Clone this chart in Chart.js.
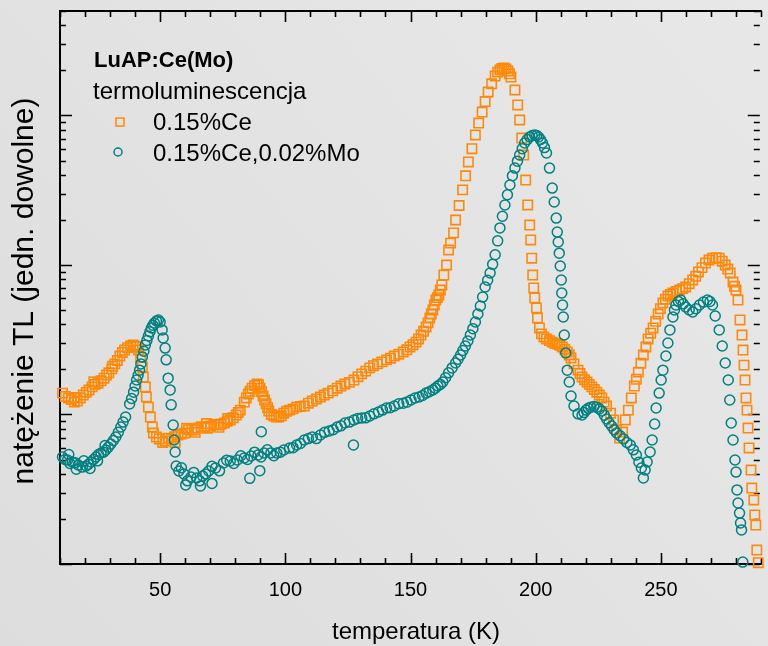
<!DOCTYPE html>
<html>
<head>
<meta charset="utf-8">
<script src="https://cdn.jsdelivr.net/npm/chart.js@4.4.1/dist/chart.umd.min.js"></script>
<style>
  html, body { margin: 0; padding: 0; background: #e2e2e2; }
  canvas { display: block; }
</style>
</head>
<body>
<canvas id="tlChart" width="768" height="646"></canvas>
<script>
// 0.15%Ce (squares) - temperature (K) and TL intensity (arb. units)
const ceTemp = [11.0, 13.4, 15.7, 18.1, 20.5, 22.8, 25.2, 27.6, 29.5, 31.9, 33.9, 35.8, 38.2, 40.2, 41.4, 42.2,
  42.9, 43.3, 44.1, 44.5, 45.3, 46.1, 46.9, 47.3, 48.5, 49.6, 52.0, 54.4, 57.1, 59.9, 62.7, 65.0, 67.8, 70.2,
  72.9, 75.7, 78.0, 80.4, 82.0, 83.6, 85.2, 86.7, 88.7, 89.9, 91.1, 92.3, 93.4, 95.4, 97.4, 99.4, 101.7, 104.5,
  107.6, 110.8, 114.0, 117.1, 120.7, 123.8, 127.4, 130.5, 133.7, 136.8, 140.4, 143.5, 147.1, 149.8, 152.2, 154.2,
  156.2, 157.7, 158.9, 160.1, 161.3, 162.5, 163.3, 164.4, 165.2, 166.0, 167.2, 168.0, 170.8, 173.1, 175.9, 178.6,
  181.0, 183.8, 185.7, 187.3, 188.9, 190.1, 191.7, 192.8, 193.6, 194.4, 195.2, 196.0, 196.8, 197.6, 198.0, 198.4,
  198.8, 199.2, 199.6, 200.3, 200.7, 201.5, 202.3, 204.3, 206.6, 208.6, 210.6, 212.6, 214.1, 215.3, 216.9, 218.5,
  220.5, 222.4, 224.4, 226.4, 228.3, 229.9, 231.1, 232.3, 233.5, 234.7, 235.8, 237.0, 238.2, 239.4, 241.0, 243.0,
  244.9, 246.9, 248.9, 250.8, 252.8, 254.8, 257.5, 259.9, 262.7, 265.0, 267.8, 270.6, 273.3, 275.7, 277.7, 278.8,
  280.0, 280.8, 281.6, 282.4, 282.8, 283.2, 283.6, 284.0, 284.4, 284.8, 285.2, 286.0, 286.3, 287.1, 287.5, 287.9,
  288.3, 288.9];
const ceTL = [13.9, 12.9, 12.1, 12.9, 14.1, 15.3, 16.2, 17.5, 19.0, 21.8, 24.6, 27.0, 28.7, 28.3, 27.0, 24.2,
  20.8, 17.8, 15.3, 13.1, 11.2, 9.62, 8.25, 7.52, 7.07, 6.86, 6.65, 6.86, 7.29, 7.52, 7.88, 8.12, 8.25, 8.38,
  8.51, 8.77, 9.19, 9.92, 10.7, 12.1, 13.7, 15.0, 16.0, 15.0, 13.3, 11.8, 10.55, 9.77, 9.62, 10.2, 10.7, 11.2,
  11.4, 12.3, 13.1, 13.9, 15.0, 16.0, 17.0, 18.7, 20.5, 21.8, 23.2, 24.6, 26.2, 28.3, 30.5, 34.0,
  38.5, 44.2, 50.0, 58.3, 63.0, 73.5, 85.7, 100, 126, 140, 164, 200, 318, 489, 741, 1055,
  1436, 1837, 2015, 2078, 1985, 1809, 1481, 1176, 933, 707, 544, 370, 252, 185, 147, 111,
  85.7, 70.2, 60.2, 51.6, 44.2, 37.9, 34.6, 32.0, 30.5, 29.6, 28.3, 26.2, 23.9, 21.8, 19.8, 17.8,
  16.5, 15.3, 14.1, 12.9, 11.4, 10.2, 9.19, 7.88, 6.96, 7.63, 9.19, 10.7, 12.9, 15.5, 19.2, 25.0,
  32.0, 37.9, 47.0, 55.7, 62.0, 65.0, 68.0, 71.3, 79.4, 89.8, 103, 111, 111, 100, 88.4, 76.9,
  68.0, 58.3, 42.9, 34.0, 27.0, 21.4, 17.0, 12.9, 10.7, 8.12, 5.97, 4.25, 3.22, 2.68, 2.13, 1.82,
  1.24, 1.02];
// second pass of readings in between, where the squares crowd into a band
const ceTemp2 = [12.2, 14.5, 16.0, 16.9, 19.3, 21.6, 23.5, 24.0, 26.4, 28.6, 30.7, 31.0, 32.9, 34.9, 37.0, 39.2,
  40.8, 51.0, 53.2, 55.7, 56.0, 58.5, 60.5, 61.3, 63.8, 64.0, 66.4, 68.5, 69.0, 71.5, 73.5, 74.3, 76.8, 77.0,
  79.2, 81.2, 84.4, 85.9, 87.7, 89.3, 90.5, 91.7, 92.9, 94.4, 96.4, 98.4, 100.5, 103.1, 106.0, 109.2, 112.4,
  115.5, 118.9, 122.2, 125.6, 129.0, 132.1, 135.2, 138.6, 142.0, 145.3, 148.5, 151.0, 153.2, 155.2, 157.0,
  158.3, 159.5, 160.7, 161.9, 169.4, 172.0, 174.5, 177.2, 179.8, 182.4, 184.8, 186.5, 188.1, 189.5, 203.3,
  205.5, 207.6, 209.6, 211.6, 213.4, 217.7, 219.5, 221.4, 223.4, 225.4, 227.3, 240.2, 242.0, 244.0, 245.9,
  247.9, 249.8, 251.8, 253.8, 256.1, 258.7, 261.3, 263.9, 266.4, 269.2, 272.0, 274.5, 276.7, 279.4];
const ceTL2 = [13.2, 12.6, 13.0, 12.3, 13.5, 14.6, 16.6, 15.9, 16.8, 18.4, 20.2, 21.0, 23.0, 26.0, 28.0, 29.2,
  28.6, 6.5, 6.95, 7.1, 6.5, 7.4, 8.1, 7.9, 7.9, 7.6, 8.3, 8.7, 8.1, 8.6, 8.2, 8.6, 9.0, 9.4,
  9.5, 10.3, 12.9, 14.3, 15.6, 15.8, 14.2, 12.5, 11.1, 10.0, 9.6, 9.8, 10.5, 10.9, 11.3, 11.9, 12.7,
  13.5, 14.4, 15.5, 16.4, 17.9, 19.5, 21.2, 22.5, 23.8, 25.3, 27.1, 29.3, 32.0, 36.0, 41.0,
  47.0, 54.0, 60.5, 68.0, 250, 395, 600, 890, 1240, 1630, 1950, 2060, 2050, 1900, 33.0,
  31.2, 30.0, 29.0, 27.3, 25.0, 18.8, 17.1, 15.9, 14.7, 13.5, 12.1, 17.2, 22.0, 28.3, 35.0,
  42.0, 51.0, 59.0, 63.5, 66.5, 69.5, 75.0, 84.0, 96.0, 108, 112, 106, 94, 72];

// 0.15%Ce,0.02%Mo (circles); the last few are stray readings off the main band
const moTemp = [11.0, 13.0, 14.9, 17.3, 20.5, 22.4, 24.4, 26.4, 28.3, 30.3, 32.3, 34.3, 36.2, 37.8, 39.4, 40.6,
  41.8, 42.9, 44.1, 45.3, 46.5, 47.7, 49.3, 50.0, 50.8, 51.2, 52.0, 52.4, 53.2, 54.0, 54.4, 55.2, 55.6, 56.0,
  56.4, 57.5, 59.5, 62.3, 64.6, 67.0, 69.4, 72.1, 75.3, 78.0, 80.8, 83.6, 86.3, 89.1, 91.5, 94.2, 96.6, 99.4,
  101.7, 104.5, 107.6, 110.8, 114.0, 117.5, 120.7, 123.8, 127.4, 130.5, 133.7, 137.2, 140.4, 143.5, 147.1, 150.2,
  153.4, 156.2, 158.9, 160.9, 162.9, 165.2, 168.0, 170.0, 171.9, 173.9, 175.9, 177.9, 179.8, 181.8, 183.8, 185.7,
  187.7, 189.7, 191.7, 193.6, 195.6, 197.6, 199.6, 201.1, 202.7, 204.3, 205.5, 206.6, 207.4, 208.2, 208.6, 209.0,
  209.4, 209.8, 210.2, 210.4, 210.7, 211.0, 211.4, 212.0, 212.6, 213.4, 214.1, 215.3, 216.9, 218.5, 220.1, 222.0,
  224.4, 226.4, 228.3, 230.3, 232.3, 235.1, 237.8, 240.2, 242.2, 243.0, 243.7, 244.5, 245.7, 246.5, 247.5, 248.1,
  249.3, 250.1, 250.8, 252.0, 252.8, 253.6, 254.8, 256.0, 257.9, 259.9, 262.7, 265.4, 268.6, 270.6, 271.7, 273.3,
  274.5, 275.7, 276.9, 277.5, 278.1, 278.8, 279.6, 280.0, 280.4, 280.8, 281.4, 281.8, 282.2, 282.7,
  60.2, 66.1, 70.7, 85.8, 89.8, 90.4, 127.2];
const moTL = [5.20, 4.96, 4.81, 4.59, 4.52, 4.81, 5.20, 5.53, 5.79, 6.35, 7.07, 8.25, 9.62, 11.75, 14.1, 17.0,
  19.8, 24.2, 29.2, 33.5, 37.9, 40.9, 42.9, 41.6, 36.8, 32.5, 27.8, 23.2, 17.5, 14.6, 11.6, 8.51, 6.75, 5.61,
  4.52, 4.19, 4.00, 3.82, 3.76, 3.88, 4.19, 4.39, 4.74, 4.89, 4.96, 5.12, 5.28, 5.36, 5.53, 5.53, 5.53, 5.79,
  5.97, 6.25, 6.75, 7.07, 7.29, 7.75, 8.25, 8.77, 9.19, 9.48, 9.77, 10.4, 11.05, 11.4, 11.9, 12.5,
  13.1, 13.9, 14.6, 15.5, 16.5, 19.0, 22.1, 25.0, 28.7, 34.0, 41.6, 53.2, 71.3, 88.4, 117, 177,
  252, 343, 445, 544, 655, 718, 741, 718, 655, 561, 445, 327, 264, 206, 166, 142.5,
  120, 98.5, 79.4, 65.0, 54.0, 44.9, 34.0, 25.8, 19.8, 16.5, 13.3, 11.4, 10.1, 9.92, 10.7, 11.2,
  11.2, 10.55, 9.33, 8.38, 7.52, 6.86, 6.25, 5.36, 4.39, 3.76, 4.25, 4.81, 5.61, 6.75, 8.64, 11.05,
  13.9, 17.0, 19.8, 24.6, 30.1, 36.8, 44.9, 54.0, 58.3, 52.4, 48.5, 54.0, 58.3, 54.0, 45.6, 36.8,
  28.7, 22.1, 17.0, 12.5, 8.77, 6.75, 4.96, 4.12, 3.13, 2.56, 2.19, 1.88, 1.69, 1.03,
  3.38, 3.33, 3.46, 3.74, 4.21, 7.67, 6.25];
// second pass of readings in between
const moTemp2 = [12.0, 13.5, 14.0, 16.1, 16.5, 18.9, 19.5, 21.4, 22.0, 23.4, 25.0, 25.4, 27.4, 28.0, 29.3, 31.3,
  33.3, 35.2, 38.6, 40.0, 41.2, 42.3, 43.5, 44.7, 45.9, 47.1, 48.5, 58.5, 60.9, 63.4, 65.8, 68.2, 70.7, 73.7,
  76.6, 79.4, 82.2, 84.9, 87.7, 90.3, 92.8, 95.4, 98.0, 103.1, 106.0, 109.2, 112.4, 115.7, 119.1, 122.2, 125.6,
  128.9, 132.1, 135.4, 138.8, 141.9, 145.3, 148.6, 151.8, 154.8, 157.5, 159.9, 161.9, 164.0, 166.6, 169.0,
  170.9, 172.9, 174.9, 176.9, 178.8, 180.8, 182.8, 184.8, 186.7, 188.7, 190.7, 192.7, 194.6, 196.6, 198.6,
  200.4, 201.9, 203.5, 219.3, 221.0, 223.2, 225.4, 227.4, 229.3, 231.3, 233.7, 236.4, 239.0, 241.2, 255.4,
  257.0, 258.9, 261.3, 264.0, 267.0, 269.6];
const moTL2 = [5.0, 5.4, 4.7, 4.75, 4.3, 4.45, 4.9, 4.65, 4.35, 5.0, 4.9, 5.4, 5.6, 6.2, 6.05, 6.7,
  7.6, 8.9, 12.8, 15.5, 18.3, 21.8, 26.5, 31.3, 35.8, 39.5, 42.2, 4.4, 3.6, 4.1, 3.6, 4.0, 4.5, 4.2,
  4.95, 4.7, 5.3, 5.0, 5.6, 5.2, 5.8, 5.3, 5.6, 6.0, 6.4, 6.9, 6.9, 7.6, 7.9, 8.4, 8.9,
  9.4, 9.5, 10.1, 10.7, 11.1, 11.8, 12.1, 12.9, 13.4, 14.2, 15.0, 15.9, 17.6, 20.5, 23.4,
  26.8, 31.0, 37.5, 47.0, 61.0, 79.0, 101, 145, 212, 295, 395, 495, 600, 690, 735,
  735, 690, 610, 10.3, 11.0, 11.3, 10.9, 9.9, 8.8, 7.9, 7.2, 6.5, 5.8, 4.8, 50.0,
  57.0, 55.0, 50.0, 51.0, 56.5, 57.0];

// axis ticks
const xLabels = [50, 100, 150, 200, 250];
const yDecades = [1, 10, 100, 1000];

const orange = "#ff8a0a";
const teal = "#008080";
const font = '"Liberation Sans", Arial, sans-serif';

const toPoints = (ts, vs) => ts.map((t, i) => ({ x: t, y: vs[i] }));

const framePlugin = {
  id: "framePlugin",
  beforeDraw(chart) {
    const ctx = chart.ctx;
    const g = ctx.createLinearGradient(0, chart.height, chart.width, 0);
    g.addColorStop(0, "#dddddd");
    g.addColorStop(1, "#e8e8e8");
    ctx.save();
    ctx.fillStyle = g;
    ctx.fillRect(0, 0, chart.width, chart.height);
    ctx.restore();
  },
  beforeDatasetsDraw(chart) {
    const ctx = chart.ctx;
    const a = chart.chartArea;
    const xs = chart.scales.x;
    const ys = chart.scales.y;
    ctx.save();
    ctx.strokeStyle = "#000";

    // inward ticks on all four sides
    ctx.lineWidth = 1.6;
    ctx.beginPath();
    for (let t = 10; t <= 290; t += 10) {
      const px = Math.round(xs.getPixelForValue(t)) + 0.5;
      const len = xLabels.includes(t) ? 11 : 6;
      ctx.moveTo(px, a.bottom); ctx.lineTo(px, a.bottom - len);
      ctx.moveTo(px, a.top); ctx.lineTo(px, a.top + len);
    }
    yDecades.forEach((d) => {
      for (let m = 1; m <= 9; m++) {
        const v = d * m;
        if (v > 5000) break;
        const py = Math.round(ys.getPixelForValue(v)) + 0.5;
        const len = m === 1 ? 12 : 6;
        ctx.moveTo(a.left, py); ctx.lineTo(a.left + len, py);
        ctx.moveTo(a.right, py); ctx.lineTo(a.right - len, py);
      }
    });
    ctx.stroke();

    // frame
    ctx.lineWidth = 2;
    ctx.beginPath();
    ctx.moveTo(a.right + 2, a.top);
    ctx.lineTo(a.left, a.top);
    ctx.lineTo(a.left, a.bottom);
    ctx.lineTo(a.right + 2, a.bottom);
    ctx.stroke();
    ctx.restore();
  },
  afterDraw(chart) {
    const ctx = chart.ctx;
    const xs = chart.scales.x;
    ctx.save();
    ctx.fillStyle = "#000";

    // x tick labels
    ctx.font = "20px " + font;
    ctx.textAlign = "center";
    ctx.textBaseline = "alphabetic";
    xLabels.forEach((t) => ctx.fillText(String(t), xs.getPixelForValue(t), 596));

    // axis titles
    ctx.font = "24px " + font;
    ctx.fillText("temperatura (K)", 416, 639);
    ctx.save();
    ctx.translate(33, 291);
    ctx.rotate(-Math.PI / 2);
    ctx.font = "30px " + font;
    ctx.fillText("natężenie TL (jedn. dowolne)", 0, 0);
    ctx.restore();

    // legend block
    ctx.textAlign = "left";
    ctx.font = "bold 22px " + font;
    ctx.fillText("LuAP:Ce(Mo)", 94, 67);
    ctx.font = "24px " + font;
    ctx.fillText("termoluminescencja", 93, 99);
    ctx.fillText("0.15%Ce", 153, 130);
    ctx.fillText("0.15%Ce,0.02%Mo", 153, 161);

    ctx.lineWidth = 1.5;
    ctx.strokeStyle = orange;
    ctx.strokeRect(116, 118, 8, 8);
    ctx.strokeStyle = teal;
    ctx.beginPath();
    ctx.arc(118, 152, 4, 0, Math.PI * 2);
    ctx.stroke();
    ctx.restore();
  },
};

new Chart(document.getElementById("tlChart"), {
  type: "scatter",
  data: {
    datasets: [
      {
        label: "0.15%Ce",
        data: toPoints(ceTemp, ceTL).concat(toPoints(ceTemp2, ceTL2)),
        pointStyle: "rect",
        pointRadius: 6.6,
        borderColor: orange,
        backgroundColor: "rgba(0,0,0,0)",
        borderWidth: 1.6,
        order: 1,
        clip: false,
      },
      {
        label: "0.15%Ce,0.02%Mo",
        data: toPoints(moTemp, moTL).concat(toPoints(moTemp2, moTL2)),
        pointStyle: "circle",
        pointRadius: 5,
        borderColor: teal,
        backgroundColor: "rgba(0,0,0,0)",
        borderWidth: 1.5,
        order: 0,
        clip: false,
      },
    ],
  },
  options: {
    responsive: false,
    animation: false,
    devicePixelRatio: 1,
    layout: { padding: { left: 60, top: 11, right: 0, bottom: 82 } },
    plugins: { legend: { display: false }, tooltip: { enabled: false } },
    scales: {
      x: { type: "linear", min: 10, max: 289.5, display: false },
      y: { type: "logarithmic", min: 1, max: 5000, display: false },
    },
  },
  plugins: [framePlugin],
});
</script>
</body>
</html>
